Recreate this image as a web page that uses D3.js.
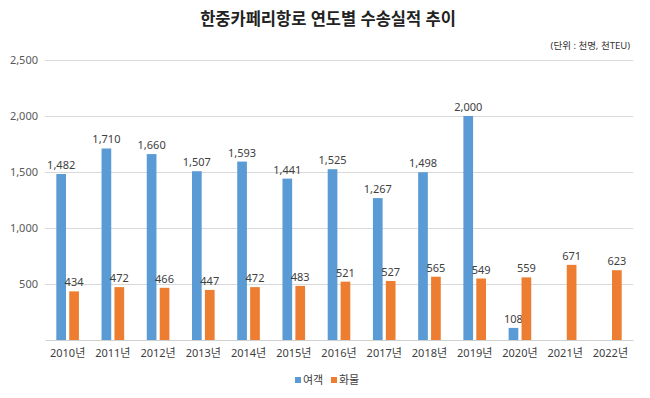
<!DOCTYPE html>
<html>
<head>
<meta charset="utf-8">
<script src="https://cdn.jsdelivr.net/npm/d3@7"></script>
<style>
  body { margin: 0; background: #fff; }
  svg text { font-family: "Noto Sans", "Noto Sans CJK KR", sans-serif; }
</style>
</head>
<body>
<div id="chart"></div>
<script>
// data
var years = ["2010년","2011년","2012년","2013년","2014년","2015년","2016년","2017년","2018년","2019년","2020년","2021년","2022년"];
var passengers = [1482, 1710, 1660, 1507, 1593, 1441, 1525, 1267, 1498, 2000, 108, null, null];
var cargo = [434, 472, 466, 447, 472, 483, 521, 527, 565, 549, 559, 671, 623];
var seriesNames = ["여객", "화물"];
var colors = ["#5B9BD5", "#ED7D31"];
var yTicks = [500, 1000, 1500, 2000, 2500];

var width = 650, height = 398;
var margin = {top: 60, right: 17, bottom: 58, left: 45};

var svg = d3.select("#chart").append("svg")
    .attr("width", width)
    .attr("height", height);

var x0 = d3.scaleBand()
    .domain(years)
    .range([margin.left, width - margin.right])
    .paddingInner(0.5)
    .paddingOuter(0.25);

var x1 = d3.scaleBand()
    .domain(seriesNames)
    .range([0, x0.bandwidth()])
    .paddingInner(0.25);

var y = d3.scaleLinear()
    .domain([0, 2500])
    .range([height - margin.bottom, margin.top]);

// title + unit note
svg.append("text")
    .attr("x", 328).attr("y", 25)
    .attr("text-anchor", "middle")
    .attr("font-size", 16.5).attr("font-weight", "bold")
    .attr("fill", "#222")
    .text("한중카페리항로 연도별 수송실적 추이");

svg.append("text")
    .attr("x", 630).attr("y", 49)
    .attr("text-anchor", "end")
    .attr("font-size", 9.5)
    .attr("fill", "#333")
    .text("(단위 : 천명, 천TEU)");

// gridlines
var yAxis = svg.append("g")
    .attr("transform", "translate(" + margin.left + ",0)")
    .call(d3.axisLeft(y).tickValues(yTicks)
        .tickSize(-(width - margin.left - margin.right))
        .tickPadding(7)
        .tickFormat(d3.format(",")));
yAxis.select(".domain").remove();
yAxis.selectAll(".tick line").attr("stroke", "#d9d9d9");
yAxis.selectAll(".tick text").attr("font-size", 11).attr("fill", "#595959");

// category axis
var xAxis = svg.append("g")
    .attr("transform", "translate(0," + y(0) + ")")
    .call(d3.axisBottom(x0).tickSize(0).tickPadding(9));
xAxis.select(".domain").attr("stroke", "#d0d0d0");
xAxis.selectAll(".tick text").attr("font-size", 11).attr("fill", "#404040");

var rows = years.map(function(yr, i) {
  return {year: yr, values: [
    {name: seriesNames[0], value: passengers[i]},
    {name: seriesNames[1], value: cargo[i]}
  ]};
});

var groups = svg.selectAll(".grp")
    .data(rows)
  .enter().append("g")
    .attr("class", "grp")
    .attr("transform", function(d) { return "translate(" + x0(d.year) + ",0)"; });

var cells = groups.selectAll(".cell")
    .data(function(d) { return d.values.filter(function(v) { return v.value != null; }); })
  .enter().append("g");

cells.append("rect")
    .attr("x", function(d) { return x1(d.name); })
    .attr("width", x1.bandwidth())
    .attr("y", function(d) { return y(d.value); })
    .attr("height", function(d) { return y(0) - y(d.value); })
    .attr("fill", function(d) { return colors[seriesNames.indexOf(d.name)]; });

cells.append("text")
    .attr("x", function(d) { return x1(d.name) + x1.bandwidth() / 2; })
    .attr("y", function(d) { return y(d.value) - 5; })
    .attr("text-anchor", "middle")
    .attr("font-size", 11)
    .attr("fill", "#404040")
    .text(function(d) { return d3.format(",")(d.value); });

// legend
var legend = svg.append("g").attr("transform", "translate(295,380)");
var items = legend.selectAll("g")
    .data(seriesNames)
  .enter().append("g")
    .attr("transform", function(d, i) { return "translate(" + (i * 36) + ",0)"; });
items.append("rect")
    .attr("x", 0).attr("y", -3)
    .attr("width", 6).attr("height", 6)
    .attr("fill", function(d, i) { return colors[i]; });
items.append("text")
    .attr("x", 8).attr("y", 4)
    .attr("font-size", 11)
    .attr("fill", "#404040")
    .text(function(d) { return d; });
</script>
</body>
</html>
